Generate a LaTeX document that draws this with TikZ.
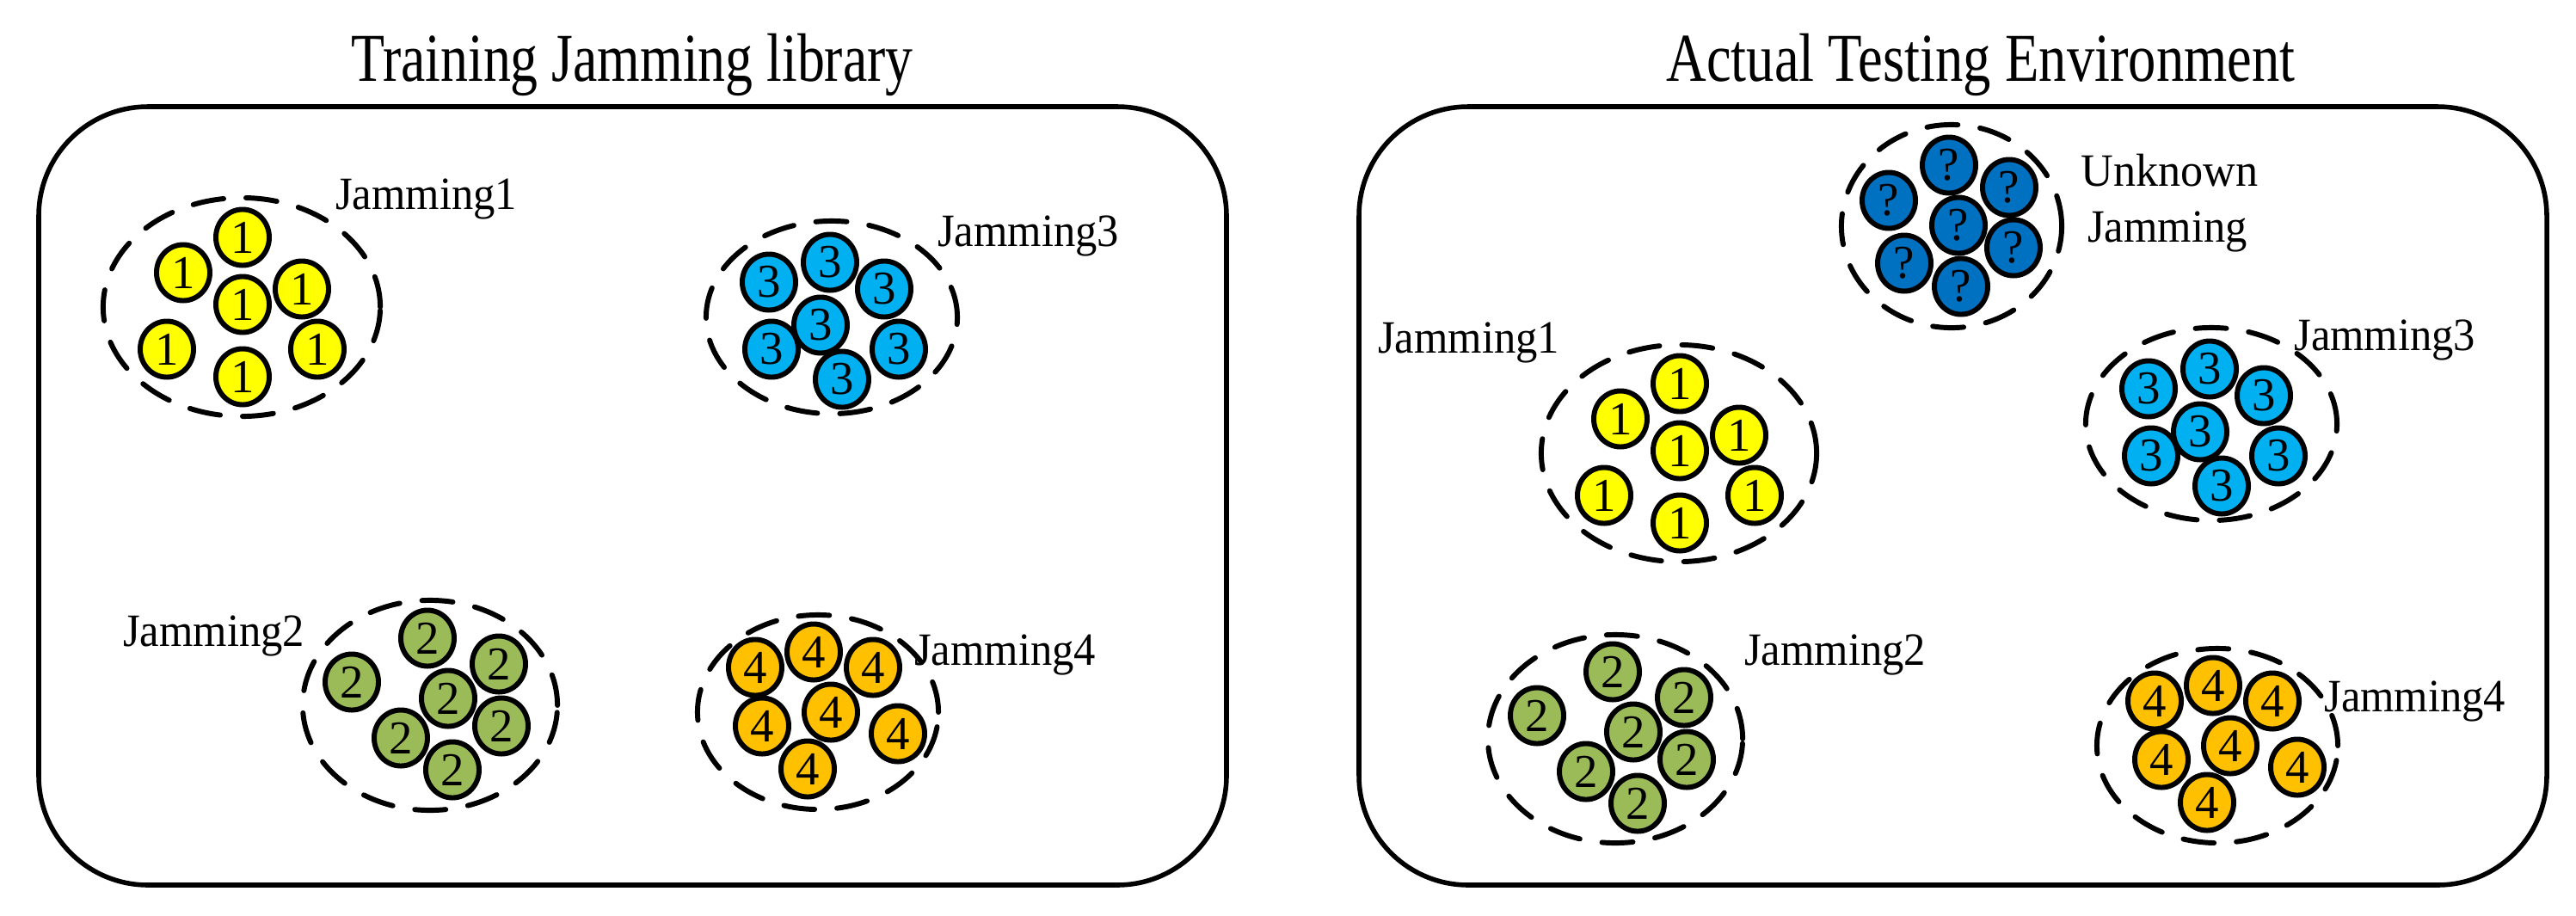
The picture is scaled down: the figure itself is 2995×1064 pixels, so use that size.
\documentclass[tikz,border=0pt]{standalone}
\usepackage{fontspec}
\usepackage{graphicx}
\usetikzlibrary{shapes.geometric}
\setmainfont{Liberation Serif}
\definecolor{cyel}{HTML}{FFFF00}
\definecolor{cblu}{HTML}{00B0F0}
\definecolor{cgrn}{HTML}{9BBB59}
\definecolor{corg}{HTML}{FFC000}
\definecolor{cdbl}{HTML}{0070C0}
\newcommand\ttlfont{\fontsize{57.6pt}{60pt}\selectfont}
\newcommand\lblfont{\fontsize{38.9pt}{42pt}\selectfont}
\newcommand\numfont{\fontsize{39.6pt}{40pt}\selectfont}
\newcommand\jcluster[7]{%
  \begin{scope}[shift={#2}]
    \draw[dashline] (0,0) ellipse [x radius=#3, y radius=#4];
    \foreach \dx/\dy [count=\k] in {#7} {\node[jam, fill=#5] (#1-\k) at (\dx,\dy) {#6};}
  \end{scope}}
\tikzset{
  panel/.style={line width=4pt, rounded corners=1.27in},
  dashline/.style={line width=4.3pt, line cap=round, dash pattern=on 0.36in off 0.26in},
  jam/.style={ellipse, draw=black, line width=4.3pt, minimum width=0.62in, minimum height=0.65in, inner sep=0pt, font=\numfont},
  ttl/.style={font=\ttlfont, inner sep=0pt, anchor=base},
  lbl/.style={font=\lblfont, inner sep=0pt, anchor=base west, align=left},
}
\begin{document}
\begin{tikzpicture}[x=0.01in,y=-0.01in]
\useasboundingbox (0,0) rectangle (2995,1064);
% panels
\draw[panel] (45,124) rectangle (1426,1029);
\draw[panel] (1580,124) rectangle (2961,1029);
\node[ttl] (t1) at (735,94) {\scalebox{0.8}[1]{Training Jamming library}};
\node[ttl] (t2) at (2303,94) {\scalebox{0.81}[1]{Actual Testing Environment}};
% left panel
\jcluster{ly}{(281,357)}{1.61in}{1.27in}{cyel}{1}{1/-81,-68/-40,1/-3,70/-21,-87/49,88/49,1/81}
\jcluster{lb}{(967,369)}{1.46in}{1.12in}{cblu}{3}{-2/-64,-73/-41,61/-33,-13/9,-70/37,78/37,12/72}
\jcluster{lg}{(500,820)}{1.48in}{1.22in}{cgrn}{2}{-3/-78,-91/-27,80/-48,21/-8,83/24,-34/38,26/75}
\jcluster{lo}{(951,828)}{1.40in}{1.13in}{corg}{4}{-73/-52,-5/-70,64/-52,15/0,-65/16,93/25,-12/66}
\node[lbl] (l1) at (390,243) {\scalebox{0.94}[1]{Jamming1}};
\node[lbl] (l3) at (1090,286) {\scalebox{0.94}[1]{Jamming3}};
\node[lbl] (l2) at (143,751) {\scalebox{0.94}[1]{Jamming2}};
\node[lbl] (l4) at (1063,773) {\scalebox{0.94}[1]{Jamming4}};
% right panel
\jcluster{ru}{(2269,263)}{1.28in}{1.18in}{cdbl}{?}{-3/-71,-73/-30,67/-45,8/-1,72/25,-55/43,11/70}
\jcluster{ry}{(1952,527)}{1.60in}{1.26in}{cyel}{1}{1/-81,-68/-40,1/-3,70/-21,-87/49,88/49,1/81}
\jcluster{rb}{(2571,493)}{1.46in}{1.12in}{cblu}{3}{-2/-64,-73/-41,61/-33,-13/9,-70/37,78/37,12/72}
\jcluster{rg}{(1878,859)}{1.48in}{1.21in}{cgrn}{2}{-3/-78,-91/-27,80/-48,21/-8,83/24,-34/38,26/75}
\jcluster{ro}{(2578,867)}{1.40in}{1.13in}{corg}{4}{-73/-52,-5/-70,64/-52,15/0,-65/16,93/25,-12/66}
\node[lbl] (ru1) at (2419,216) {\scalebox{0.97}[1]{Unknown}};
\node[lbl] (ru2) at (2427,281) {\scalebox{0.94}[1]{Jamming}};
\node[lbl] (r1) at (1602,410) {\scalebox{0.94}[1]{Jamming1}};
\node[lbl] (r3) at (2667,407) {\scalebox{0.94}[1]{Jamming3}};
\node[lbl] (r2) at (2028,773) {\scalebox{0.94}[1]{Jamming2}};
\node[lbl] (r4) at (2702,827) {\scalebox{0.94}[1]{Jamming4}};
\end{tikzpicture}
\end{document}
